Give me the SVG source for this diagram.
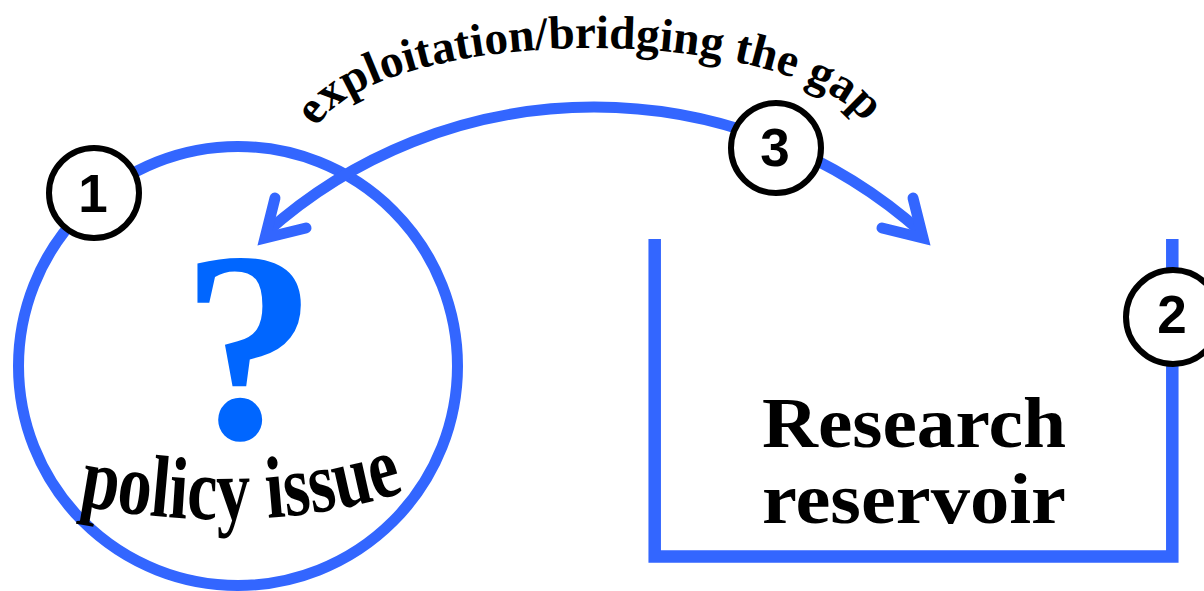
<svg xmlns="http://www.w3.org/2000/svg" width="1204" height="591" viewBox="0 0 1204 591">
<defs>
<style>
.blue{fill:none;stroke:#3366ff;stroke-width:11}
.head{fill:none;stroke:#3366ff;stroke-width:11;stroke-linecap:round;stroke-linejoin:miter;stroke-miterlimit:6}
.badge circle{fill:#fff;stroke:#000;stroke-width:6}
.badge text{font-family:"Liberation Sans",Arial,sans-serif;font-weight:bold;font-size:53px;text-anchor:middle;fill:#000}
.serif{font-family:"Liberation Serif","Times New Roman",serif;font-weight:bold;fill:#000}
.qmark{font-family:"Liberation Serif","Times New Roman",serif;font-weight:bold;fill:#0066ff}
</style>
<path id="arcText" d="M 312 146 A 280 98 0 0 1 872 146"/>
<path id="policyPath" d="M 78 505 Q 260 540 410 490"/>
</defs>
<rect width="1204" height="591" fill="#fff"/>

<g id="policy-issue">
  <circle class="blue" cx="238" cy="366" r="219.5"/>
  <text class="qmark" x="249" y="438" font-size="272" text-anchor="middle">?</text>
  <text class="serif" font-size="88"><textPath href="#policyPath" textLength="330" lengthAdjust="spacingAndGlyphs">policy issue</textPath></text>
</g>

<g id="research-reservoir">
  <path class="blue" style="stroke-width:12.5" d="M 654.7 239 V 556.5 H 1172.3 V 239"/>
  <text class="serif" x="762" y="447" font-size="72" textLength="304" lengthAdjust="spacingAndGlyphs">Research</text>
  <text class="serif" x="762" y="523" font-size="72" textLength="304" lengthAdjust="spacingAndGlyphs">reservoir</text>
</g>

<g id="connectors">
  <path class="blue" d="M 266 232.7 A 491 491 0 0 1 922 232.7"/>
  <path class="head" d="M 913 198 L 923 238 L 882 228"/>
  <path class="head" d="M 275 198 L 265 238 L 306 228"/>
  <text class="serif" font-size="47"><textPath href="#arcText" startOffset="19" textLength="585" lengthAdjust="spacingAndGlyphs">exploitation/bridging the gap</textPath></text>
</g>

<g id="badge-1" class="badge">
  <circle cx="94" cy="193" r="45"/>
  <text x="93" y="212">1</text>
</g>
<g id="badge-2" class="badge">
  <circle cx="1173" cy="317" r="47"/>
  <text x="1172" y="333">2</text>
</g>
<g id="badge-3" class="badge">
  <circle cx="776" cy="148" r="45"/>
  <text x="775" y="166">3</text>
</g>
</svg>
